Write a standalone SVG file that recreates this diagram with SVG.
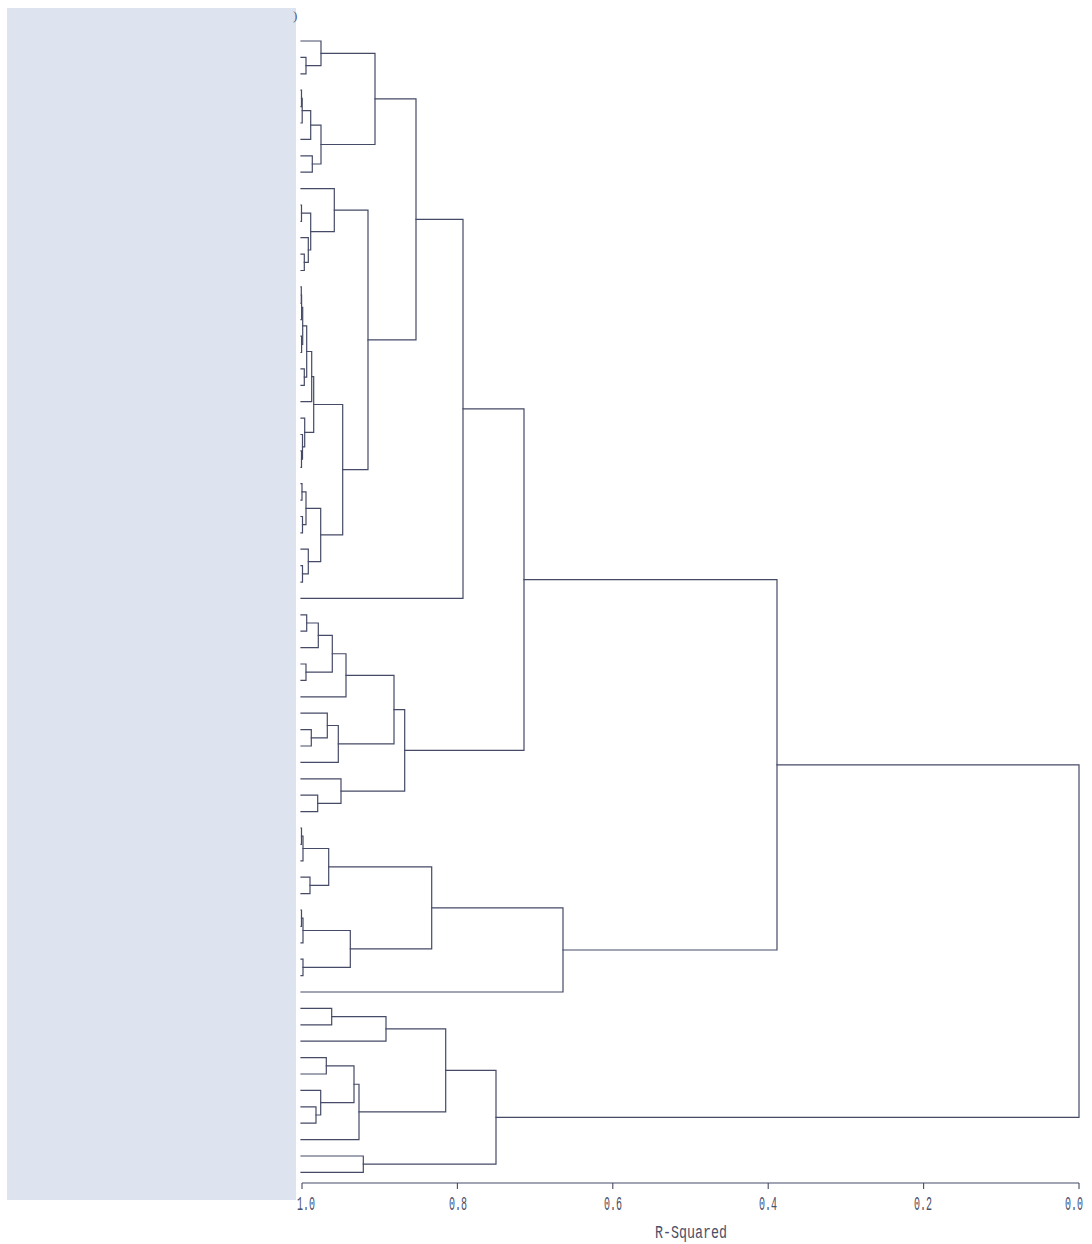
<svg xmlns="http://www.w3.org/2000/svg" width="1092" height="1244" viewBox="0 0 1092 1244">
<style>
.br{fill:none;stroke:#454a66;stroke-width:1.2;stroke-linejoin:miter;stroke-linecap:square}
.ax{fill:none;stroke:#454a66;stroke-width:1.1}
.lbl{font-family:"Liberation Mono","DejaVu Sans Mono",monospace;font-size:20px;fill:#4a4f68}
.ttl{font-family:"Liberation Mono","DejaVu Sans Mono",monospace;font-size:19px;fill:#4a4f68}
</style>
<rect width="1092" height="1244" fill="#ffffff"/>
<g id="label-mask">
<rect x="7" y="8" width="289" height="1192" fill="#dde4f0"/>
<text x="293" y="20" font-family="Liberation Serif,serif" font-size="13" fill="#555a70">)</text>
</g>
<g id="connectors">
<path id="m1" class="br" d="M301 57.4 H306 V73.8 H301"/>
<path id="m2" class="br" d="M301 41 H321 V65.6 H306"/>
<path id="m3" class="br" d="M301 90.2 H301.5 V106.6 H301"/>
<path id="m4" class="br" d="M301.5 98.4 H302.2 V123 H301"/>
<path id="m5" class="br" d="M302.2 110.7 H310.7 V139.4 H301"/>
<path id="m6" class="br" d="M301 155.8 H312.3 V172.2 H301"/>
<path id="m7" class="br" d="M310.7 125.05 H321 V164 H312.3"/>
<path id="m8" class="br" d="M321 53.3 H375 V144.5 H321"/>
<path id="m9" class="br" d="M301 205 H301.5 V221.3 H301"/>
<path id="m10" class="br" d="M301 254.1 H304.3 V270.5 H301"/>
<path id="m11" class="br" d="M301 237.7 H308.3 V262.3 H304.3"/>
<path id="m12" class="br" d="M301.5 213.15 H310.7 V250 H308.3"/>
<path id="m13" class="br" d="M301 188.6 H334.3 V231.6 H310.7"/>
<path id="m14" class="br" d="M301 286.9 H301.3 V303.3 H301"/>
<path id="m15" class="br" d="M301.3 295.1 H301.6 V319.7 H301"/>
<path id="m16" class="br" d="M301 336.1 H301.6 V352.5 H301"/>
<path id="m17" class="br" d="M301.6 307.4 H302.7 V344.3 H301.6"/>
<path id="m18" class="br" d="M301 368.9 H304.3 V385.3 H301"/>
<path id="m19" class="br" d="M302.7 325.85 H306.7 V377.1 H304.3"/>
<path id="m20" class="br" d="M306.7 351.5 H311.7 V401.7 H301"/>
<path id="m21" class="br" d="M301 450.9 H301.5 V467.3 H301"/>
<path id="m22" class="br" d="M301 434.5 H302.5 V459.1 H301.5"/>
<path id="m23" class="br" d="M301 418.1 H304.7 V446.8 H302.5"/>
<path id="m24" class="br" d="M311.7 376.6 H313.7 V432.45 H304.7"/>
<path id="m25" class="br" d="M301 483.7 H302 V500.1 H301"/>
<path id="m26" class="br" d="M301 516.5 H302.5 V532.9 H301"/>
<path id="m27" class="br" d="M302 491.9 H306 V524.7 H302.5"/>
<path id="m28" class="br" d="M301 565.7 H302.5 V582.1 H301"/>
<path id="m29" class="br" d="M301 549.2 H308.3 V573.9 H302.5"/>
<path id="m30" class="br" d="M306 508.3 H320.7 V561.55 H308.3"/>
<path id="m31" class="br" d="M313.7 404.5 H342.7 V534.9 H320.7"/>
<path id="m32" class="br" d="M334.3 210.1 H368 V469.7 H342.7"/>
<path id="m33" class="br" d="M375 98.9 H416 V339.9 H368"/>
<path id="m34" class="br" d="M416 219.4 H463 V598.4 H301"/>
<path id="m35" class="br" d="M301 614.8 H306.7 V631.2 H301"/>
<path id="m36" class="br" d="M306.7 623 H318.3 V647.6 H301"/>
<path id="m37" class="br" d="M301 664 H306 V680.4 H301"/>
<path id="m38" class="br" d="M318.3 635.3 H332.3 V672.2 H306"/>
<path id="m39" class="br" d="M332.3 653.75 H346 V696.8 H301"/>
<path id="m40" class="br" d="M301 729.6 H311.3 V746 H301"/>
<path id="m41" class="br" d="M301 713.2 H327.3 V737.8 H311.3"/>
<path id="m42" class="br" d="M327.3 725.5 H338.3 V762.4 H301"/>
<path id="m43" class="br" d="M346 675.3 H394 V743.95 H338.3"/>
<path id="m44" class="br" d="M301 795.2 H317.7 V811.6 H301"/>
<path id="m45" class="br" d="M301 778.8 H341 V803.4 H317.7"/>
<path id="m46" class="br" d="M394 709.6 H404.7 V791.1 H341"/>
<path id="m47" class="br" d="M463 408.9 H524 V750.35 H404.7"/>
<path id="m48" class="br" d="M301 828 H301.5 V844.4 H301"/>
<path id="m49" class="br" d="M301.5 836.2 H303 V860.8 H301"/>
<path id="m50" class="br" d="M301 877.2 H310 V893.6 H301"/>
<path id="m51" class="br" d="M303 848.5 H328.7 V885.4 H310"/>
<path id="m52" class="br" d="M301 910 H301.5 V926.4 H301"/>
<path id="m53" class="br" d="M301.5 918.2 H303 V942.8 H301"/>
<path id="m54" class="br" d="M301 959.2 H303 V975.6 H301"/>
<path id="m55" class="br" d="M303 930.5 H350.3 V967.4 H303"/>
<path id="m56" class="br" d="M328.7 866.95 H431.7 V948.95 H350.3"/>
<path id="m57" class="br" d="M431.7 907.95 H563 V992 H301"/>
<path id="m58" class="br" d="M524 579.6 H777 V950 H563"/>
<path id="m59" class="br" d="M301 1008.3 H331.7 V1024.8 H301"/>
<path id="m60" class="br" d="M331.7 1016.55 H386 V1041.2 H301"/>
<path id="m61" class="br" d="M301 1057.6 H326.3 V1074 H301"/>
<path id="m62" class="br" d="M301 1106.8 H316 V1123.2 H301"/>
<path id="m63" class="br" d="M301 1090.4 H320.7 V1115 H316"/>
<path id="m64" class="br" d="M326.3 1065.8 H354 V1102.7 H320.7"/>
<path id="m65" class="br" d="M354 1084.25 H359 V1139.6 H301"/>
<path id="m66" class="br" d="M386 1028.9 H445.7 V1111.9 H359"/>
<path id="m67" class="br" d="M301 1156 H363.3 V1172.3 H301"/>
<path id="m68" class="br" d="M445.7 1070.4 H496 V1164.15 H363.3"/>
<path id="m69" class="br" d="M777 764.8 H1079 V1117.3 H496"/>
</g>
<g id="axis">
<path class="ax" d="M302 1183 H1079 M302 1183 V1189 M457.4 1183 V1189 M612.8 1183 V1189 M768.2 1183 V1189 M923.6 1183 V1189 M1079 1183 V1189"/>
<text class="lbl" x="306" y="1210" text-anchor="middle" textLength="18" lengthAdjust="spacingAndGlyphs">1.0</text>
<text class="lbl" x="458" y="1210" text-anchor="middle" textLength="18" lengthAdjust="spacingAndGlyphs">0.8</text>
<text class="lbl" x="613" y="1210" text-anchor="middle" textLength="18" lengthAdjust="spacingAndGlyphs">0.6</text>
<text class="lbl" x="768" y="1210" text-anchor="middle" textLength="18" lengthAdjust="spacingAndGlyphs">0.4</text>
<text class="lbl" x="923" y="1210" text-anchor="middle" textLength="18" lengthAdjust="spacingAndGlyphs">0.2</text>
<text class="lbl" x="1074" y="1210" text-anchor="middle" textLength="18" lengthAdjust="spacingAndGlyphs">0.0</text>
<text class="ttl" x="691" y="1238" text-anchor="middle" textLength="72" lengthAdjust="spacingAndGlyphs">R-Squared</text>
</g>
</svg>
